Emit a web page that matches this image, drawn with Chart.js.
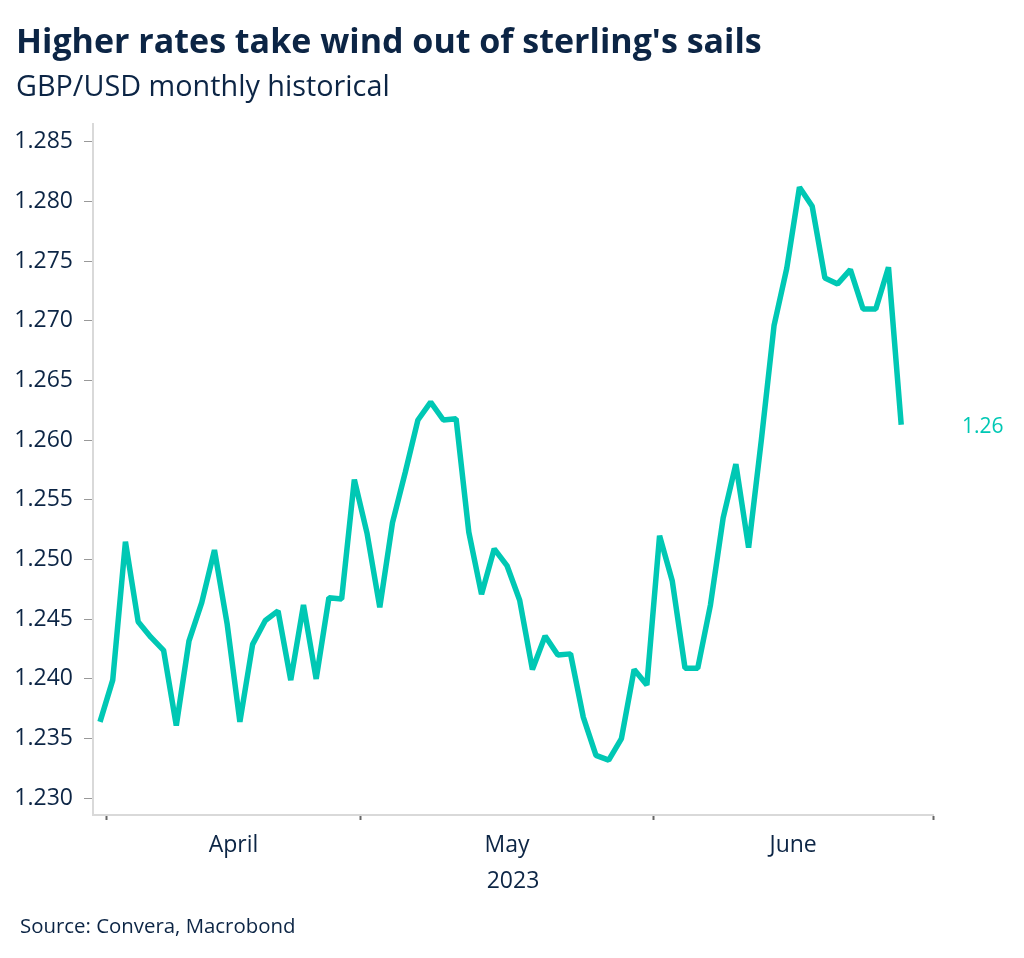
<!DOCTYPE html>
<html>
<head>
<meta charset="utf-8">
<script src="https://cdn.jsdelivr.net/npm/chart.js@4.4.0/dist/chart.umd.min.js"></script>
<style>
html,body{margin:0;padding:0;background:#fff;width:1024px;height:958px;overflow:hidden;}
#wrap{position:relative;width:1024px;height:958px;}
#c{position:absolute;left:0;top:0;}
.t{position:absolute;white-space:nowrap;color:#0c2545;font-family:'Open Sans',sans-serif;line-height:1;}
#title{left:16px;top:23px;font-size:34px;font-weight:700;}
#sub{left:16px;top:71px;font-size:28.8px;}
#src{left:20px;top:915px;font-size:20.4px;}
</style>
</head>
<body>
<div id="wrap">
<canvas id="c" width="1024" height="958"></canvas>
<div class="t" id="title">Higher rates take wind out of sterling's sails</div>
<div class="t" id="sub">GBP/USD monthly historical</div>
<div class="t" id="src">Source: Convera, Macrobond</div>
</div>
<script>
// ---- data ----
const dates = [
  '2023-03-31',
  '2023-04-03','2023-04-04','2023-04-05','2023-04-06','2023-04-07',
  '2023-04-10','2023-04-11','2023-04-12','2023-04-13','2023-04-14',
  '2023-04-17','2023-04-18','2023-04-19','2023-04-20','2023-04-21',
  '2023-04-24','2023-04-25','2023-04-26','2023-04-27','2023-04-28',
  '2023-05-01','2023-05-02','2023-05-03','2023-05-04','2023-05-05',
  '2023-05-08','2023-05-09','2023-05-10','2023-05-11','2023-05-12',
  '2023-05-15','2023-05-16','2023-05-17','2023-05-18','2023-05-19',
  '2023-05-22','2023-05-23','2023-05-24','2023-05-25','2023-05-26',
  '2023-05-29','2023-05-30','2023-05-31',
  '2023-06-01','2023-06-02',
  '2023-06-05','2023-06-06','2023-06-07','2023-06-08','2023-06-09',
  '2023-06-12','2023-06-13','2023-06-14','2023-06-15','2023-06-16',
  '2023-06-19','2023-06-20','2023-06-21','2023-06-22','2023-06-23',
  '2023-06-26','2023-06-27','2023-06-28'
];
const gbpusd = [
  1.2364,
  1.2399, 1.2515, 1.2448, 1.2435, 1.2424,
  1.2361, 1.2432, 1.2464, 1.2508, 1.2446,
  1.2364, 1.2429, 1.2449, 1.2457, 1.2399,
  1.2462, 1.2400, 1.2468, 1.2467, 1.2567,
  1.2522, 1.2460, 1.2531, 1.2573, 1.2617,
  1.2632, 1.2617, 1.2618, 1.2523, 1.2471,
  1.2509, 1.2495, 1.2466, 1.2408, 1.2436,
  1.2420, 1.2421, 1.2368, 1.2336, 1.2332,
  1.2350, 1.2408, 1.2395,
  1.2520, 1.2482,
  1.2409, 1.2409, 1.2462, 1.2535, 1.2580,
  1.2510, 1.2600, 1.2696, 1.2744, 1.2812,
  1.2796, 1.2736, 1.2731, 1.2743, 1.2710,
  1.2710, 1.2745, 1.2613
];
const yTicks = [1.230, 1.235, 1.240, 1.245, 1.250, 1.255, 1.260, 1.265, 1.270, 1.275, 1.280, 1.285];
const monthNames = ['April', 'May', 'June'];
const yearLabel = '2023';
const seriesName = 'GBP/USD';

// ---- derived month boundaries (in business-day index units) ----
function monthBoundaries(ds) {
  const b = [];
  for (let i = 1; i < ds.length; i++) {
    if (ds[i].slice(0, 7) !== ds[i - 1].slice(0, 7)) b.push(i - 0.5);
  }
  const last = new Date(ds[ds.length - 1] + 'T00:00:00Z');
  const m = last.getUTCMonth();
  const d = new Date(last.getTime());
  let n = 0;
  while (true) {
    d.setUTCDate(d.getUTCDate() + 1);
    if (d.getUTCMonth() !== m) break;
    const wd = d.getUTCDay();
    if (wd !== 0 && wd !== 6) n++;
  }
  b.push(ds.length - 1 + n + 0.5);
  return b;
}
const bounds = monthBoundaries(dates);
const centers = [];
for (let i = 1; i < bounds.length; i++) centers.push((bounds[i - 1] + bounds[i]) / 2);

const TEXT = '#0c2545';
const LINE = '#00c8b4';
const FONT = "'Open Sans', sans-serif";

const lastLabel = {
  id: 'lastLabel',
  afterDatasetsDraw(chart) {
    const {ctx, chartArea, scales: {y}} = chart;
    const v = gbpusd[gbpusd.length - 1];
    const py = y.getPixelForValue(v);
    ctx.save();
    ctx.font = "21px " + FONT;
    ctx.fillStyle = LINE;
    ctx.textAlign = 'left';
    ctx.textBaseline = 'middle';
    ctx.fillText(v.toFixed(2), chartArea.right + 29, py + 2);
    ctx.restore();
  }
};

new Chart(document.getElementById('c'), {
  type: 'line',
  data: {
    datasets: [{
      label: seriesName,
      data: gbpusd.map((v, i) => ({x: i, y: v})),
      borderColor: LINE,
      borderWidth: 5.5,
      pointRadius: 0,
      tension: 0,
      borderJoinStyle: 'bevel',
      borderCapStyle: 'butt',
      fill: false
    }]
  },
  options: {
    responsive: false,
    animation: false,
    devicePixelRatio: 1,
    layout: {padding: {top: 124, right: 91, bottom: 43, left: 0}},
    plugins: {legend: {display: false}, tooltip: {enabled: false}, title: {display: false}},
    scales: {
      x: {
        type: 'linear',
        min: -0.55,
        max: bounds[bounds.length - 1],
        afterBuildTicks(scale) {
          const t = bounds.map(v => ({value: v})).concat(centers.map(v => ({value: v})));
          t.sort((a, b) => a.value - b.value);
          scale.ticks = t;
        },
        afterFit(scale) { scale.height = 100; },
        border: {display: true, color: '#d9d9d9', width: 2},
        grid: {
          drawOnChartArea: false,
          drawTicks: true,
          tickLength: 5,
          tickWidth: 2,
          tickColor: (ctx) => (ctx.tick && centers.includes(ctx.tick.value)) ? 'rgba(0,0,0,0)' : '#666'
        },
        ticks: {
          autoSkip: false,
          maxRotation: 0,
          padding: 12,
          color: TEXT,
          font: {family: FONT, size: 23},
          callback: (v) => { const k = centers.indexOf(v); return k >= 0 ? monthNames[k] : ''; }
        },
        title: {
          display: true,
          text: yearLabel,
          color: TEXT,
          font: {family: FONT, size: 23},
          padding: {top: 0, bottom: 20}
        }
      },
      y: {
        type: 'linear',
        min: 1.2286,
        max: 1.2865,
        afterBuildTicks(scale) { scale.ticks = yTicks.map(v => ({value: v})); },
        afterFit(scale) { scale.width = 93; },
        border: {display: true, color: '#d9d9d9', width: 2},
        grid: {drawOnChartArea: false, drawTicks: true, tickLength: 9, tickWidth: 1, tickColor: '#999'},
        ticks: {
          padding: 11,
          color: TEXT,
          font: {family: FONT, size: 23},
          callback: (v) => Number(v).toFixed(3)
        }
      }
    }
  },
  plugins: [lastLabel]
});
</script>
</body>
</html>
